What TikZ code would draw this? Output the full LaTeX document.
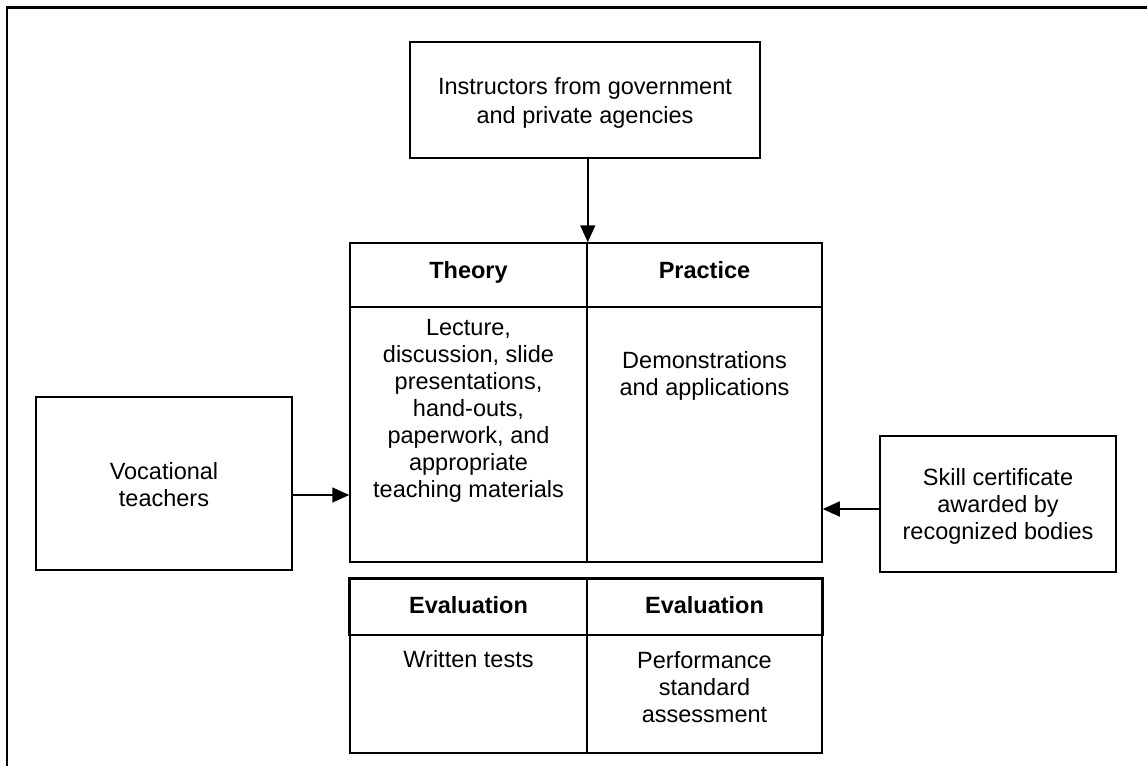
\documentclass[tikz,border=0pt]{standalone}
\usepackage{fontspec}
\setmainfont{Liberation Sans}
\usetikzlibrary{arrows.meta}
\begin{document}
\begin{tikzpicture}[x=1pt,y=-1pt,
  txt/.style={font=\fontsize{23.5}{27}\selectfont, align=center, inner sep=0pt},
  hd/.style={font=\fontsize{23.5}{27}\selectfont\bfseries, inner sep=0pt},
  box/.style={draw, line width=1.8pt, inner sep=0pt, txt},
  cell/.style={draw, line width=1.5pt, inner sep=0pt},
  arr/.style={-{Triangle[length=17pt,width=15pt]}, line width=1.5pt},
  frame/.style={line width=2.4pt}]
\useasboundingbox (0,0) rectangle (1147,766);
\fill[white] (0,0) rectangle (1147,766);
\draw[frame] (7,766) -- (7,7.5) -- (1147,7.5);

% top box
\node[box, minimum width=350pt, minimum height=116pt] (instr) at (585,100) {};
\node[txt, font=\fontsize{23.5}{29}\selectfont] (instrT) at (585,103)
  {Instructors from government\\and private agencies};

% side boxes
\node[box, minimum width=256pt, minimum height=173pt] (voc) at (164,483.5) {};
\node[txt] (vocT) at (164,485) {Vocational\\teachers};
\node[box, minimum width=236pt, minimum height=136pt] (skill) at (998,504) {};
\node[txt] (skillT) at (998,506) {Skill certificate\\awarded by\\recognized bodies};

% main table
\node[cell, minimum width=237pt, minimum height=64pt] (thH) at (468.5,275) {};
\node[cell, minimum width=235pt, minimum height=64pt] (prH) at (704.5,275) {};
\node[cell, minimum width=237pt, minimum height=255pt] (thB) at (468.5,434.5) {};
\node[cell, minimum width=235pt, minimum height=255pt] (prB) at (704.5,434.5) {};
\node[hd, anchor=base] (thHt) at (468.5,278) {Theory};
\node[hd, anchor=base] (prHt) at (704.5,278) {Practice};
\node[txt] (thBt) at (468.5,411) {Lecture,\\discussion, slide\\presentations,\\hand-outs,\\paperwork, and\\appropriate\\teaching materials};
\node[txt] (prBt) at (704.5,375.5) {Demonstrations\\and applications};

% evaluation table
\node[cell, minimum width=237pt, minimum height=56pt] (evH1) at (468.5,607) {};
\node[cell, minimum width=235pt, minimum height=56pt] (evH2) at (704.5,607) {};
\node[cell, minimum width=237pt, minimum height=118pt] (evB1) at (468.5,694) {};
\node[cell, minimum width=235pt, minimum height=118pt] (evB2) at (704.5,694) {};
\draw[frame] (evH1.south west) -- (evH1.north west) -- (evH2.north east) -- (evH2.south east);
\node[hd, anchor=base] (evH1t) at (468.5,613) {Evaluation};
\node[hd, anchor=base] (evH2t) at (704.5,613) {Evaluation};
\node[txt, anchor=base] (evB1t) at (468.5,667) {Written tests};
\node[txt] (evB2t) at (704.5,687) {Performance\\standard\\assessment};

% connectors
\draw[arr] (instr.south -| thH.north east) -- (thH.north east);
\draw[arr] (voc.east |- 0,495) -- (thB.west |- 0,495);
\draw[arr] (skill.west |- 0,509) -- (prB.east |- 0,509);
\end{tikzpicture}
\end{document}
